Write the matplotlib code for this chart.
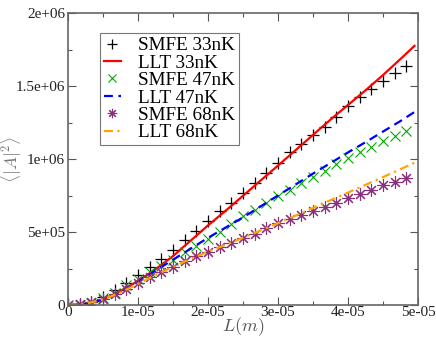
import matplotlib
matplotlib.use("Agg")
import matplotlib.pyplot as plt
import numpy as np

# SMFE sample positions (m)
L_pts = [i * 5e-5 / 30 for i in range(30)]
smfe_33 = [0, 5e3, 22e3, 57e3, 103e3, 149e3, 205e3, 262e3, 315e3, 375e3,
           448e3, 510e3, 575e3, 641e3, 702e3, 770e3, 836e3, 902e3, 972e3, 1045e3,
           1105e3, 1164e3, 1221e3, 1286e3, 1360e3, 1423e3, 1477e3, 1536e3, 1591e3, 1637e3]
smfe_47 = [0, 3e3, 15e3, 45e3, 85e3, 135e3, 175e3, 225e3, 265e3, 305e3,
           360e3, 405e3, 455e3, 502e3, 558e3, 608e3, 651e3, 697e3, 750e3, 790e3,
           834e3, 875e3, 918e3, 964e3, 1008e3, 1048e3, 1082e3, 1120e3, 1157e3, 1190e3]
smfe_68 = [0, 4e3, 18e3, 42e3, 75e3, 110e3, 150e3, 190e3, 225e3, 258e3,
           300e3, 335e3, 365e3, 395e3, 427e3, 457e3, 484e3, 530e3, 565e3, 590e3,
           618e3, 644e3, 669e3, 700e3, 731e3, 763e3, 788e3, 820e3, 845e3, 868e3]

# LLT curves
L_line = [0, 2.5e-6, 5e-6, 7.5e-6, 1e-5, 1.25e-5, 1.5e-5, 1.75e-5, 2e-5, 2.25e-5,
          2.5e-5, 2.75e-5, 3e-5, 3.25e-5, 3.5e-5, 3.75e-5, 4e-5, 4.25e-5, 4.5e-5, 4.75e-5, 4.95e-5]
llt_33 = [0, 8e3, 38e3, 95e3, 165e3, 245e3, 335e3, 440e3, 545e3, 645e3,
          748e3, 852e3, 955e3, 1060e3, 1165e3, 1270e3, 1370e3, 1470e3, 1575e3, 1685e3, 1775e3]
llt_47 = [0, 8e3, 36e3, 90e3, 160e3, 235e3, 310e3, 385e3, 460e3, 530e3,
          600e3, 675e3, 750e3, 825e3, 900e3, 972e3, 1045e3, 1115e3, 1188e3, 1260e3, 1322e3]
llt_68 = [0, 9e3, 38e3, 85e3, 145e3, 205e3, 262e3, 315e3, 365e3, 412e3,
          460e3, 510e3, 560e3, 612e3, 665e3, 718e3, 770e3, 823e3, 876e3, 930e3, 975e3]

x_ticks = [0, 1e-5, 2e-5, 3e-5, 4e-5, 5e-5]
x_labels = ["0", "1e-05", "2e-05", "3e-05", "4e-05", "5e-05"]
y_ticks = [0, 5e5, 1e6, 1.5e6, 2e6]
y_labels = ["0", "5e+05", "1e+06", "1.5e+06", "2e+06"]

plt.rcParams['mathtext.fontset'] = 'cm'
plt.rcParams['font.family'] = ['Liberation Serif', 'DejaVu Serif']

fig = plt.figure(figsize=(4.36, 3.38), dpi=100)
ax = fig.add_axes([68/436, 33/338, 350/436, 292/338])

ax.plot(L_pts, smfe_33, linestyle='none', marker='+', color='black', markersize=9,
        markeredgewidth=0.9, label='SMFE 33nK')
ax.plot(L_line, llt_33, color='#ff0000', linewidth=1.6, label='LLT 33nK')
ax.plot(L_pts, smfe_47, linestyle='none', marker='x', color='#00aa00', markersize=7,
        markeredgewidth=0.8, label='SMFE 47nK')
ax.plot(L_line, llt_47, color='#0000ff', linewidth=1.6, linestyle=(0, (4, 2.5)), label='LLT 47nK')
ax.plot(L_pts, smfe_68, linestyle='none', marker=(8, 2, 0), color='#8a2f7c', markersize=9,
        markeredgewidth=0.8, label='SMFE 68nK')
ax.plot(L_line, llt_68, color='#ffa500', linewidth=1.6, linestyle=(0, (4, 2, 1, 2)), label='LLT 68nK')

ax.set_xlim(0, 5e-5)
ax.set_ylim(0, 2e6)
ax.set_xticks(x_ticks)
ax.set_xticklabels(x_labels)
ax.set_yticks(y_ticks)
ax.set_yticklabels(y_labels)
ax.set_xticks(np.arange(0, 5.01e-5, 5e-6), minor=True)
ax.set_yticks(np.arange(0, 2.01e6, 2.5e5), minor=True)
ax.tick_params(which='both', direction='in', top=True, right=True, colors='#555555',
               labelcolor='#222222', labelsize=11, width=0.8)
ax.tick_params(which='major', length=6)
ax.tick_params(which='minor', length=3)
ax.tick_params(axis='x', pad=1)
ax.tick_params(axis='y', pad=2)
for s in ax.spines.values():
    s.set_color('#666666')
    s.set_linewidth(1.2)

ax.set_xlabel(r'$L(m)$', fontsize=13, color='#555555')
ax.set_ylabel(r'$\langle|A|^2\rangle$', fontsize=12.5, color='#777777')
ax.xaxis.set_label_coords(0.5, -0.036, transform=ax.transAxes)
ax.yaxis.set_label_coords(-0.125, 0.5, transform=ax.transAxes)

leg = ax.legend(loc='upper left', bbox_to_anchor=(32/350, (305-33)/292), borderaxespad=0,
                fontsize=13.8, handlelength=0.9, handletextpad=0.9, labelspacing=0.0,
                borderpad=0.2, fancybox=False, frameon=True, markerscale=0.75)
leg.get_frame().set_edgecolor('#555555')
leg.get_frame().set_linewidth(0.8)

fig.savefig('out.png', dpi=100)
